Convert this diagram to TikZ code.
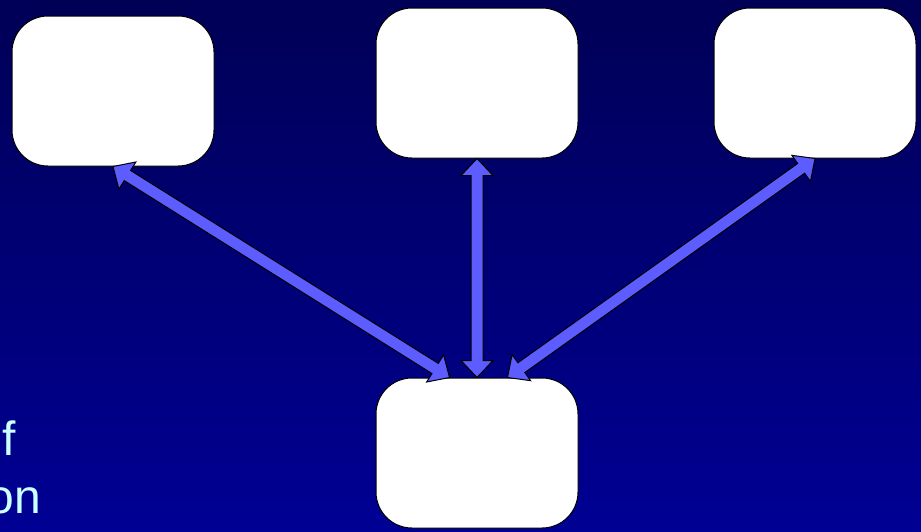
\documentclass[tikz,border=0pt]{standalone}
\usepackage{fontspec}
\setmainfont{Liberation Sans}
\usetikzlibrary{calc}

\definecolor{skytop}{RGB}{0,0,86}
\definecolor{skybottom}{RGB}{0,0,148}
\definecolor{linkblue}{RGB}{92,92,255}
\definecolor{notecyan}{RGB}{204,255,255}

\tikzset{
  box/.style={draw=black, fill=white, rounded corners=18pt, minimum width=101pt, minimum height=75pt, inner sep=0pt, line width=0.5pt},
  link/.style={draw=black, fill=linkblue, line width=0.5pt, line join=miter},
  note/.style={text=notecyan, font=\fontsize{24}{29}\selectfont, inner sep=0pt}
}

% double headed block arrow between two anchors
\newcommand\linkarrow[2]{%
  \path[link] (#1)
    -- ($(#1)!8.5pt!(#2)!8pt!90:(#2)$)
    -- ($(#1)!8.5pt!(#2)!3pt!90:(#2)$)
    -- ($(#2)!8.5pt!(#1)!3pt!-90:(#1)$)
    -- ($(#2)!8.5pt!(#1)!8pt!-90:(#1)$)
    -- (#2)
    -- ($(#2)!8.5pt!(#1)!8pt!90:(#1)$)
    -- ($(#2)!8.5pt!(#1)!3pt!90:(#1)$)
    -- ($(#1)!8.5pt!(#2)!3pt!-90:(#2)$)
    -- ($(#1)!8.5pt!(#2)!8pt!-90:(#2)$)
    -- cycle;}

\begin{document}
\begin{tikzpicture}[x=0.5pt, y=-0.5pt]
    \useasboundingbox (0,0) rectangle (921,531);
    \clip (0,0) rectangle (921,531);
    \shade[top color=skytop, bottom color=skybottom] (0,0) rectangle (921,531);

    \node[box] (left)   at (113,91)  {};
    \node[box] (middle) at (477,83)  {};
    \node[box] (right)  at (815,83)  {};
    \node[box] (hub)    at (477,453) {};

    \linkarrow{left.south}{hub.110}
    \linkarrow{middle.south}{hub.north}
    \linkarrow{right.south}{hub.68}

    \node[note, anchor=base west] (of)  at (2,455)   {f};
    \node[note, anchor=base west] (ion) at (-13,513) {on};
\end{tikzpicture}
\end{document}
